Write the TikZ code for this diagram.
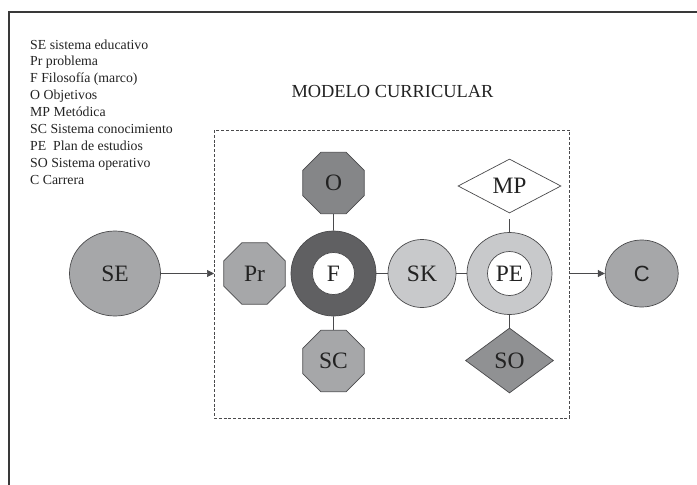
\documentclass[tikz,border=0pt]{standalone}
\usepackage{fontspec}
\setmainfont{Liberation Serif}
\newfontfamily\labsans{Liberation Sans}
\usetikzlibrary{shapes.geometric,arrows.meta}
\definecolor{edge}{HTML}{4A4A4C}
\definecolor{txt}{HTML}{222222}
\definecolor{midgray}{HTML}{A6A7A9}
\definecolor{lightgray}{HTML}{C8C9CB}
\definecolor{darkring}{HTML}{606062}
\definecolor{ogray}{HTML}{858688}
\definecolor{sogray}{HTML}{909193}
\tikzset{
  shp/.style={draw=edge, line width=0.7pt, inner sep=0pt, text=txt,
    font=\fontsize{23.5}{26}\selectfont},
  octo/.style={shp, regular polygon, regular polygon sides=8, minimum size=66.5pt},
  ell/.style={shp, ellipse},
  rhomb/.style={shp, diamond},
  link/.style={draw=edge, line width=0.7pt},
  arr/.style={link, -{Triangle[length=7pt,width=7pt]}},
  legend/.style={anchor=base west, inner sep=0pt, text=txt, font=\fontsize{13.8}{16.9}\selectfont},
}
\begin{document}
\begin{tikzpicture}[x=1pt,y=-1pt]
\useasboundingbox (0,0) rectangle (697,485);
% outer frame (partly visible)
\draw[color=gray!45!black, line width=2.4pt] (9,486) -- (9,12) -- (698,12);
% legend
\foreach \t [count=\i] in {SE sistema educativo, Pr problema, F Filosofía (marco), O Objetivos, MP Metódica, SC Sistema conocimiento, PE~ Plan de estudios, SO Sistema operativo, C Carrera}
  \node[legend] (l\i) at (30,{49+16.9*(\i-1)}) {\t};
% title
\node[anchor=base, inner sep=0pt, text=txt, font=\fontsize{18.4}{20}\selectfont] (title) at (392.5,97.5) {MODELO CURRICULAR};
% dashed frame
\draw[draw=edge, line width=0.6pt, dash pattern=on 3pt off 1.8pt] (214,130) rectangle (569.5,418);
\coordinate (boxL) at (214,273.5);
\coordinate (boxR) at (569.5,273.5);
% nodes
\node[ell, fill=midgray, minimum width=91pt, minimum height=85pt] (SE) at (115,273.5) {SE};
\node[octo, fill=midgray] (Pr) at (254.5,273.5) {Pr};
\node[shp, circle, fill=darkring, minimum size=85pt] (F) at (333.5,273.5) {};
\node[shp, circle, fill=white, minimum size=42pt] (Fi) at (F.center) {F};
\node[octo, fill=ogray] (O) at (333.5,183) {O};
\node[octo, fill=midgray] (SC) at (333.5,361) {SC};
\node[shp, circle, fill=lightgray, minimum size=68pt] (SK) at (422,273.5) {SK};
\node[shp, ellipse, fill=lightgray, minimum width=85pt, minimum height=82pt] (PE) at (509.5,273.5) {};
\node[shp, circle, fill=white, minimum size=44pt] (PEi) at (PE.center) {PE};
\node[rhomb, fill=white, minimum width=103pt, minimum height=54pt] (MP) at (509.5,186) {MP};
\node[rhomb, fill=sogray, minimum width=88pt, minimum height=65pt] (SO) at (509.5,360.5) {SO};
\node[ell, fill=midgray, minimum width=73pt, minimum height=67pt, font=\labsans\fontsize{22}{24}\selectfont] (C) at (641.7,273.5) {C};
% connectors
\draw[arr] (SE.east) -- (boxL);
\draw[link] (O.south) -- (F.north);
\draw[link] (F.south) -- (SC.north);
\draw[link] (F.east) -- (SK.west);
\draw[link] (SK.east) -- (PE.west);
\draw[link, shorten <=6pt] (MP.south) -- (PE.north);
\draw[link] (PE.south) -- (SO.north);
\draw[arr] (boxR) -- (C.west);
\end{tikzpicture}
\end{document}
